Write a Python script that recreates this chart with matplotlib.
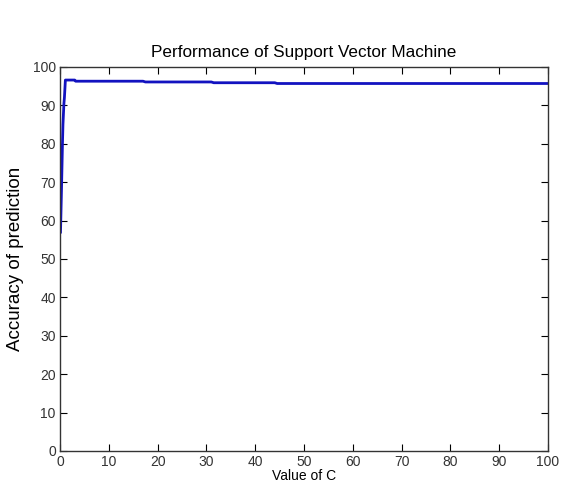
import numpy as np
import matplotlib
matplotlib.use("Agg")
import matplotlib.pyplot as plt

plt.rcParams['font.family'] = ['Liberation Sans', 'DejaVu Sans']

# values of C and accuracy
c_values = [0.1, 0.3, 0.5, 0.6, 0.8, 0.9, 1.1, 3.0, 3.2, 17.0, 17.5, 31.0, 31.5, 44.0, 44.5, 100.0]
accuracy = [57.0, 68.0, 80.0, 85.0, 90.5, 92.0, 96.6, 96.6, 96.3, 96.3, 96.1, 96.1, 95.9, 95.9, 95.7, 95.7]

x_ticks = [0, 10, 20, 30, 40, 50, 60, 70, 80, 90, 100]
y_ticks = [0, 10, 20, 30, 40, 50, 60, 70, 80, 90, 100]

fig = plt.figure(figsize=(5.63, 4.83), dpi=100)
ax = fig.add_axes([0.1066, 0.0663, 0.8668, 0.795])

ax.plot(c_values, accuracy, color='#1212c0', linewidth=2)

ax.set_xlim(0, 100)
ax.set_ylim(0, 100)
ax.set_xticks(x_ticks)
ax.set_yticks(y_ticks)
ax.tick_params(direction='in', length=5, width=0.8, labelsize=10,
               top=True, right=True, colors='black', labelcolor='#333333', pad=3)
for s in ax.spines.values():
    s.set_linewidth(1.0)
    s.set_color('#333333')

ax.set_title("Performance of Support Vector Machine", fontsize=12.3, pad=7)
ax.set_ylabel("Accuracy of prediction", fontsize=13.5, labelpad=6)
ax.set_xlabel("Value of C", fontsize=10, labelpad=0)

fig.savefig("out.png", dpi=100)
